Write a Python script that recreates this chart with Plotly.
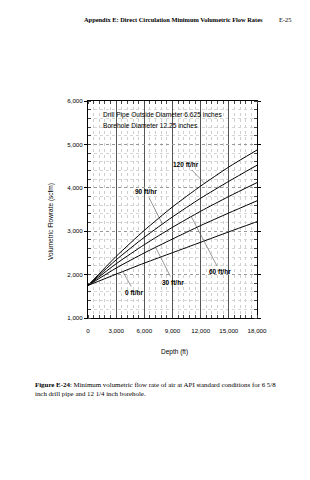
import plotly.graph_objects as go

# ---------------- data ----------------
depth_ft = [0, 3000, 6000, 9000, 12000, 15000, 18000]
rop_labels = ["120 ft/hr", "90 ft/hr", "60 ft/hr", "30 ft/hr", "0 ft/hr"]
flow_120 = [1750, 2420, 3020, 3560, 4040, 4480, 4870]
flow_90 = [1750, 2340, 2860, 3330, 3760, 4150, 4520]
flow_60 = [1750, 2250, 2690, 3090, 3460, 3800, 4120]
flow_30 = [1750, 2150, 2500, 2820, 3130, 3420, 3700]
flow_0 = [1750, 2010, 2265, 2505, 2745, 2985, 3220]
series = [flow_120, flow_90, flow_60, flow_30, flow_0]

# label text position (depth, flow) and the point on the curve the leader points at
label_pos = [(10450, 4546), (6180, 3908), (14070, 2061), (9090, 1824), (4960, 1593)]
leader_depth = [12430, 7930, 11000, 7200, 3700]

x_ticks = [0, 3000, 6000, 9000, 12000, 15000, 18000]
y_ticks = [1000, 2000, 3000, 4000, 5000, 6000]

header = "Appendix E: Direct Circulation Minimum Volumetric Flow Rates"
page = "E-25"
caption1 = "<b>Figure E-24</b>: Minimum volumetric flow rate of air at API standard conditions for 6 5/8"
caption2 = "inch drill pipe and 12 1/4 inch borehole."
note1 = "Drill Pipe Outside Diameter 6.625 inches"
note2 = "Borehole Diameter 12.25 inches"

# ---------------- layout geometry ----------------
W, H = 310, 480
L, R, T, B = 88, 257, 101, 318


def px(xp):
    return (xp - L) / (R - L)


def py(yp):
    return (B - yp) / (B - T)


def interp(xs, ys, x):
    for i in range(len(xs) - 1):
        if xs[i] <= x <= xs[i + 1]:
            f = (x - xs[i]) / (xs[i + 1] - xs[i])
            return ys[i] + f * (ys[i + 1] - ys[i])
    return ys[-1]


fig = go.Figure()
for name, ys in zip(rop_labels, series):
    fig.add_trace(go.Scatter(x=depth_ft, y=ys, mode="lines", name=name,
                             line=dict(color="black", width=1, shape="spline", smoothing=0.6),
                             showlegend=False, hoverinfo="skip"))

sans = "Liberation Sans, Arial, sans-serif"
serif = "Liberation Serif, Times New Roman, serif"

annotations = []
for name, ys, (lx, ly), ld in zip(rop_labels, series, label_pos, leader_depth):
    annotations.append(dict(
        x=ld, y=interp(depth_ft, ys, ld), xref="x", yref="y",
        ax=lx, ay=ly, axref="x", ayref="y",
        text="<b>" + name + "</b>", showarrow=True, arrowhead=0,
        arrowwidth=0.6, arrowcolor="#555", standoff=0, startstandoff=1,
        font=dict(family=sans, size=6.5, color="black"),
        bgcolor="rgba(255,255,255,0)"))

annotations += [
    dict(x=px(101), y=py(115), xref="paper", yref="paper", text=note1, showarrow=False,
         xanchor="left", yanchor="middle", font=dict(family=sans, size=6.6, color="black")),
    dict(x=px(101), y=py(125), xref="paper", yref="paper", text=note2, showarrow=False,
         xanchor="left", yanchor="middle", font=dict(family=sans, size=6.6, color="black")),
    dict(x=px(265), y=py(20), xref="paper", yref="paper", text="<b>" + header + "</b>",
         showarrow=False, xanchor="right", yanchor="middle",
         font=dict(family=serif, size=6.4, color="black")),
    dict(x=px(293), y=py(20), xref="paper", yref="paper", text=page,
         showarrow=False, xanchor="right", yanchor="middle",
         font=dict(family=serif, size=6.4, color="black")),
    dict(x=px(33), y=py(384), xref="paper", yref="paper", text=caption1,
         showarrow=False, xanchor="left", yanchor="middle",
         font=dict(family=serif, size=6.9, color="black")),
    dict(x=px(33), y=py(393), xref="paper", yref="paper", text=caption2,
         showarrow=False, xanchor="left", yanchor="middle",
         font=dict(family=serif, size=6.9, color="black")),
    dict(x=px(51), y=py(222), xref="paper", yref="paper", text="Volumetric Flowrate (scfm)",
         showarrow=False, textangle=-90, xanchor="center", yanchor="middle",
         font=dict(family=sans, size=6.5, color="black")),
    dict(x=px(174), y=py(352), xref="paper", yref="paper", text="Depth (ft)",
         showarrow=False, xanchor="center", yanchor="middle",
         font=dict(family=sans, size=6.5, color="black")),
]

fig.update_layout(
    width=W, height=H,
    margin=dict(l=L, r=W - R, t=T, b=H - B, pad=0),
    paper_bgcolor="white", plot_bgcolor="white",
    annotations=annotations,
    showlegend=False,
)

fig.update_xaxes(
    range=[0, 18000], tickvals=x_ticks, ticktext=[f"{v:,}" for v in x_ticks],
    showline=True, linecolor="black", linewidth=1, mirror="allticks",
    ticks="", ticklabelstandoff=7,
    tickfont=dict(family=sans, size=6.2, color="black"),
    showgrid=True, gridcolor="#555", gridwidth=1,
    minor=dict(dtick=600, tick0=0, ticks="inside", ticklen=3, tickcolor="#444", tickwidth=0.6,
               showgrid=True, gridcolor="#cfcfcf", gridwidth=0.5, griddash="dot"),
    zeroline=False,
)
fig.update_yaxes(
    range=[1000, 6000], tickvals=y_ticks, ticktext=[f"{v:,}" for v in y_ticks],
    showline=True, linecolor="black", linewidth=1, mirror="allticks",
    ticks="outside", ticklen=3, tickcolor="black", tickwidth=0.8,
    tickfont=dict(family=sans, size=6.2, color="black"),
    showgrid=True, gridcolor="#999", gridwidth=0.6, griddash="dot",
    minor=dict(dtick=200, tick0=1000, ticks="inside", ticklen=3, tickcolor="#444", tickwidth=0.6,
               showgrid=True, gridcolor="#d5d5d5", gridwidth=0.5, griddash="dot"),
    zeroline=False,
)

fig.write_html("out.html")
